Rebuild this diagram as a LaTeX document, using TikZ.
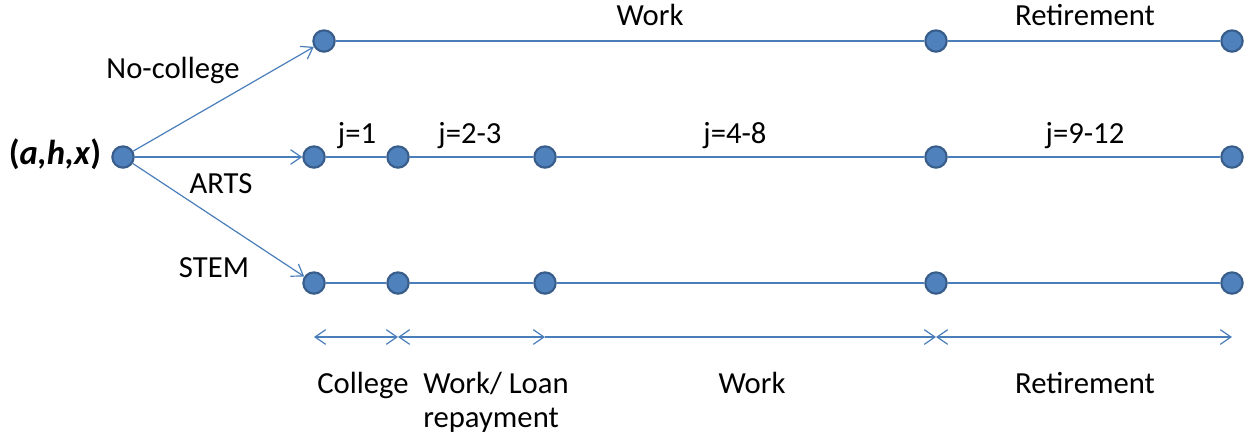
\documentclass[tikz,border=0pt]{standalone}
\usepackage{fontspec}
\setmainfont{Carlito}
\usetikzlibrary{arrows.meta}
\definecolor{dotfill}{HTML}{4F81BD}
\definecolor{dotedge}{HTML}{385D8A}
\definecolor{linkc}{HTML}{4A7EBB}
\tikzset{
  dot/.style={circle,fill=dotfill,draw=dotedge,line width=1.6pt,minimum size=16pt,inner sep=0pt},
  link/.style={draw=linkc,line width=0.9pt},
  arr/.style={link,-{Straight Barb[length=8pt,width=11pt,line width=0.9pt]}},
  span/.style={link,{Straight Barb[length=8pt,width=11pt,line width=0.9pt]}-{Straight Barb[length=8pt,width=11pt,line width=0.9pt]}},
  lbl/.style={font=\fontsize{23}{25.5}\selectfont,anchor=base,inner sep=0pt}
}
\begin{document}
\begin{tikzpicture}[x=0.75pt,y=-0.75pt]
\useasboundingbox (0,0) rectangle (1253,444);
% nodes
\node[dot] (o) at (123,157) {};
\node[dot] (t1) at (324,41) {};
\node[dot] (t2) at (936,41) {};
\node[dot] (t3) at (1232,41) {};
\node[dot] (m1) at (314,157) {};
\node[dot] (m2) at (398,157) {};
\node[dot] (m3) at (545,157) {};
\node[dot] (m4) at (936,157) {};
\node[dot] (m5) at (1232,157) {};
\node[dot] (b1) at (314,283) {};
\node[dot] (b2) at (398,283) {};
\node[dot] (b3) at (545,283) {};
\node[dot] (b4) at (936,283) {};
\node[dot] (b5) at (1232,283) {};
% branches
\draw[arr] (o) -- (t1);
\draw[arr] (o) -- (m1);
\draw[arr] (o) -- (b1);
% lines
\draw[link] (t1) -- (t2) (t2) -- (t3);
\draw[link] (m1) -- (m2) (m2) -- (m3) (m3) -- (m4) (m4) -- (m5);
\draw[link] (b1) -- (b2) (b2) -- (b3) (b3) -- (b4) (b4) -- (b5);
% span arrows
\coordinate (s1) at (314,337);
\coordinate (s2) at (398,337);
\coordinate (s3) at (545,337);
\coordinate (s4) at (936,337);
\coordinate (s5) at (1232,337);
\draw[span] (s1) -- (s2);
\draw[span] (s2) -- (s3);
\draw[arr] (s3) -- (s4);
\draw[span] (s4) -- (s5);
% labels
\node[lbl] (lw) at (650,25) {Work};
\node[lbl] (lr) at (1085,25) {Retirement};
\node[lbl] (lnc) at (173,78) {No-college};
\node[lbl,font=\fontsize{26}{28}\selectfont] (lo) at (55,164) {\bfseries(\itshape a,h,x\/\upshape)};
\node[lbl] (lj1) at (357,143) {j=1};
\node[lbl] (lj2) at (470,143) {j=2-3};
\node[lbl] (lj4) at (735,143) {j=4-8};
\node[lbl] (lj9) at (1085,143) {j=9-12};
\node[lbl] (la) at (221,193) {ARTS};
\node[lbl] (ls) at (214,277) {STEM};
\node[lbl] (bc) at (363,393) {College};
\node[lbl,anchor=base west] (bw) at (423,393) {Work/ Loan};
\node[lbl,anchor=base west] (bl) at (423,427) {repayment};
\node[lbl] (bwk) at (752,393) {Work};
\node[lbl] (br) at (1085,393) {Retirement};
\end{tikzpicture}
\end{document}
